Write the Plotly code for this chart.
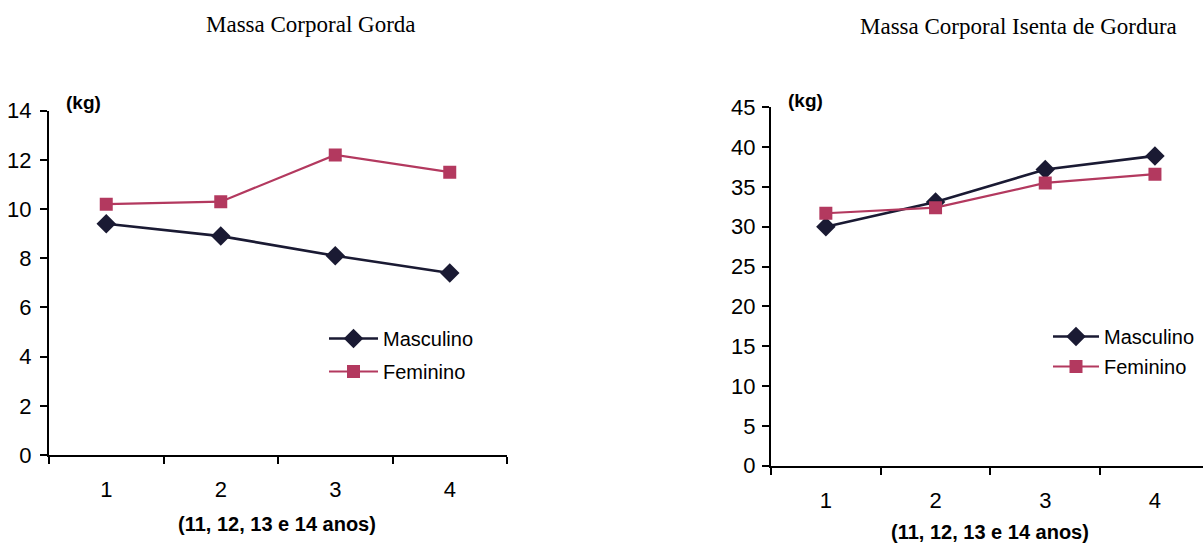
import plotly.graph_objects as go

categories = ["1", "2", "3", "4"]
gorda_masc = [9.4, 8.9, 8.1, 7.4]
gorda_fem = [10.2, 10.3, 12.2, 11.5]
isenta_masc = [30.0, 33.1, 37.2, 38.9]
isenta_fem = [31.7, 32.4, 35.5, 36.6]

title_left = "Massa Corporal Gorda"
title_right = "Massa Corporal Isenta de Gordura"
x_title = "(11, 12, 13 e 14 anos)"
y_unit = "(kg)"

NAVY = "#1a1a33"
ROSE = "#b3395f"
SANS = "Liberation Sans, Arial, sans-serif"
SERIF = "Liberation Serif, Times New Roman, serif"

fig = go.Figure()

def add_pair(xa, ya, masc, fem, legend):
    fig.add_trace(go.Scatter(
        x=categories, y=masc, name="Masculino", mode="lines+markers",
        xaxis=xa, yaxis=ya, legend=legend, legendgroup=legend + "m",
        line=dict(color=NAVY, width=2.6),
        marker=dict(symbol="diamond", size=15, color=NAVY)))
    fig.add_trace(go.Scatter(
        x=categories, y=fem, name="Feminino", mode="lines+markers",
        xaxis=xa, yaxis=ya, legend=legend, legendgroup=legend + "f",
        line=dict(color=ROSE, width=2.2),
        marker=dict(symbol="square", size=13, color=ROSE)))

add_pair("x", "y", gorda_masc, gorda_fem, "legend")
add_pair("x2", "y2", isenta_masc, isenta_fem, "legend2")

axis_common = dict(showline=True, linecolor="black", linewidth=2,
                   ticks="outside", ticklen=7, tickwidth=2, tickcolor="black",
                   showgrid=False, zeroline=False,
                   tickfont=dict(family=SANS, size=22, color="black"))

xcommon = dict(axis_common, type="category", tickson="boundaries",
               ticklabelstandoff=14)

def ann(text, x, y, size, family, bold=False):
    return dict(text=("<b>" + text + "</b>") if bold else text,
                x=x / 1203, y=1 - y / 545, xref="paper", yref="paper",
                xanchor="center", yanchor="middle", showarrow=False,
                font=dict(family=family, size=size, color="black"))

fig.update_layout(
    width=1203, height=545,
    margin=dict(l=0, r=0, t=0, b=0, pad=0, autoexpand=False),
    paper_bgcolor="white", plot_bgcolor="white",
    showlegend=True,
    xaxis=dict(xcommon, domain=[49/1203, 507/1203], range=[-0.5, 3.5],
               anchor="y"),
    yaxis=dict(axis_common, domain=[1-455/545, 1-110.7/545], range=[0, 14],
               tickvals=[0, 2, 4, 6, 8, 10, 12, 14], anchor="x",
               ticklabelstandoff=4),
    xaxis2=dict(xcommon, domain=[771/1203, 1.0], range=[-0.5, 3.438],
                anchor="y2"),
    yaxis2=dict(axis_common, domain=[1-465.7/545, 1-107.3/545], range=[0, 45],
                tickvals=[0, 5, 10, 15, 20, 25, 30, 35, 40, 45], anchor="x2",
                ticklabelstandoff=2),
    legend=dict(x=324/1203, y=1-319/545, xanchor="left", yanchor="top",
                font=dict(family=SANS, size=20, color="black"),
                traceorder="grouped", tracegroupgap=4, itemwidth=49,
                bgcolor="rgba(0,0,0,0)"),
    legend2=dict(x=1048/1203, y=1-317/545, xanchor="left", yanchor="top",
                 font=dict(family=SANS, size=20, color="black"),
                 traceorder="grouped", tracegroupgap=1, itemwidth=46,
                 bgcolor="rgba(0,0,0,0)"),
    annotations=[
        ann(title_left, 311, 25, 23, SERIF),
        ann(title_right, 1018, 26, 23, SERIF),
        ann(y_unit, 83, 102, 19, SANS, bold=True),
        ann(y_unit, 805, 100, 19, SANS, bold=True),
        ann(x_title, 277, 524, 20, SANS, bold=True),
        ann(x_title, 990, 532, 20, SANS, bold=True),
    ],
)

fig.write_html("out.html")
